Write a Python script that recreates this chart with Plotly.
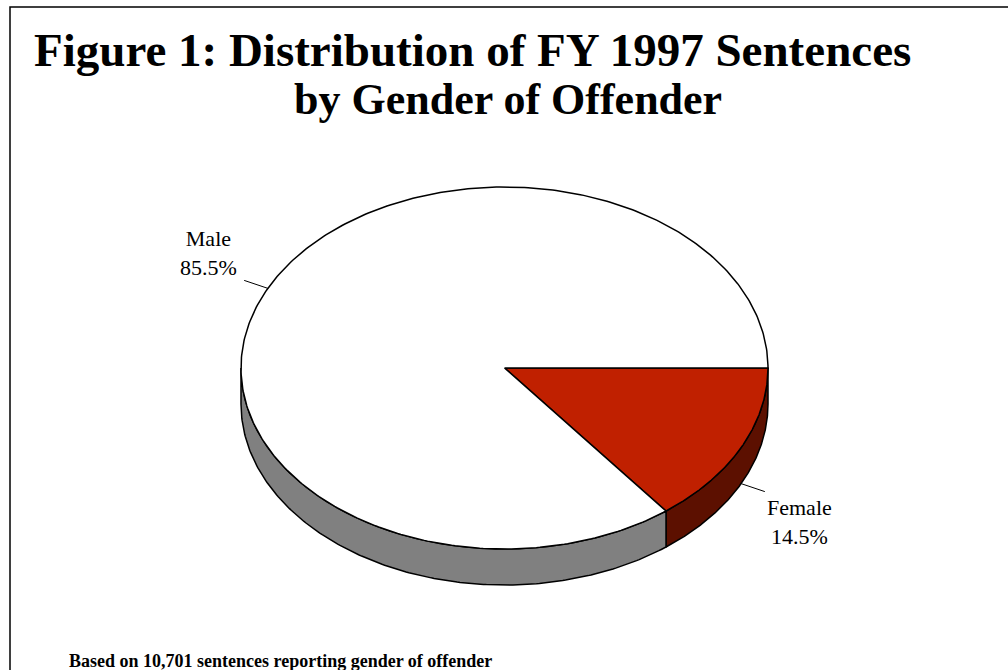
import numpy as np
import plotly.graph_objects as go

# ---------------- data ----------------
categories = ["Male", "Female"]
percent = [85.5, 14.5]
title_lines = ["Figure 1: Distribution of FY 1997 Sentences", "by Gender of Offender"]
footnote = "Based on 10,701 sentences reporting gender of offender"

# ---------------- layout / style ----------------
W, H = 1008, 670
CX, CY = 504.5, 368.0
RX, RY = 263.5, 181.0
DEPTH = 36.0
FONT = "Liberation Serif, Times New Roman, serif"
top_col = {"Male": "#FFFFFF", "Female": "#C02000"}
side_col = {"Male": "#808080", "Female": "#5C1000"}
draw_order = ["Female", "Male"]  # clockwise from 3 o'clock

# slice angles (screen degrees, clockwise, y down)
slices = {}
start = 0.0
for c in draw_order:
    v = percent[categories.index(c)]
    end = start + v / 100.0 * 360.0
    slices[c] = (start, end)
    start = end


def pt(a, dz=0.0):
    r = np.radians(a)
    return CX + RX * np.cos(r), CY + RY * np.sin(r) + dz


fig = go.Figure()

# side faces (visible front half: 0..180 deg)
for c in draw_order:
    a0, a1 = slices[c]
    lo, hi = max(a0, 0.0), min(a1, 180.0)
    if hi <= lo:
        continue
    ang = np.linspace(lo, hi, 200)
    xt, yt = pt(ang)
    xb, yb = pt(ang[::-1], DEPTH)
    xs = np.concatenate([xt, xb, xt[:1]])
    ys = np.concatenate([yt, yb, yt[:1]])
    fig.add_trace(go.Scatter(x=xs, y=ys, mode="lines", fill="toself",
                             fillcolor=side_col[c], line=dict(color="black", width=1.5),
                             hoverinfo="skip", showlegend=False))

# top faces
for c in draw_order:
    a0, a1 = slices[c]
    ang = np.linspace(a0, a1, 400)
    xa, ya = pt(ang)
    xs = np.concatenate([[CX], xa, [CX]])
    ys = np.concatenate([[CY], ya, [CY]])
    fig.add_trace(go.Scatter(x=xs, y=ys, mode="lines", fill="toself",
                             fillcolor=top_col[c], line=dict(color="black", width=1.5),
                             hoverinfo="skip", showlegend=False))

# leader lines and labels
annotations = []
for c in draw_order:
    a0, a1 = slices[c]
    m = (a0 + a1) / 2.0
    r = np.radians(m)
    front = np.sin(r) > 0
    x0, y0 = pt(m, DEPTH if front else 0.0)
    d = np.array([np.cos(r) * RX, np.sin(r) * RY])
    d = d / np.linalg.norm(d)
    x1, y1 = x0 + 25 * d[0], y0 + 25 * d[1]
    fig.add_trace(go.Scatter(x=[x0, x1], y=[y0, y1], mode="lines",
                             line=dict(color="black", width=1),
                             hoverinfo="skip", showlegend=False))
    p = percent[categories.index(c)]
    right_side = np.cos(r) > 0
    annotations.append(dict(
        x=x1 + (0 if right_side else -5), y=y1 + (1 if front else 2),
        xref="x", yref="y", showarrow=False,
        text=f"{c}<br>{p:.1f}%", align="center",
        xanchor="left" if right_side else "right",
        yanchor="top" if front else "bottom",
        font=dict(family=FONT, size=22, color="black")))

# titles
annotations.append(dict(x=472, y=50, xref="x", yref="y", showarrow=False,
                        text=f"<b>{title_lines[0]}</b>", xanchor="center", yanchor="middle",
                        font=dict(family=FONT, size=47, color="black")))
annotations.append(dict(x=508, y=99, xref="x", yref="y", showarrow=False,
                        text=f"<b>{title_lines[1]}</b>", xanchor="center", yanchor="middle",
                        font=dict(family=FONT, size=44, color="black")))
annotations.append(dict(x=67, y=661, xref="x", yref="y", showarrow=False,
                        text=f"<b>{footnote}</b>", xanchor="left", yanchor="middle",
                        font=dict(family=FONT, size=18, color="black")))

fig.update_layout(
    width=W, height=H, margin=dict(l=0, r=0, t=0, b=0),
    paper_bgcolor="white", plot_bgcolor="white",
    xaxis=dict(range=[0, W], visible=False, fixedrange=True),
    yaxis=dict(range=[H, 0], visible=False, fixedrange=True),
    annotations=annotations,
    shapes=[dict(type="rect", xref="paper", yref="paper",
                 x0=10 / W, x1=1.05, y0=-0.05, y1=1 - 7 / H,
                 line=dict(color="black", width=1.5))],
    showlegend=False,
)

fig.write_html("out.html", config={"displayModeBar": False},
               post_script="document.body.style.margin='0';document.body.style.padding='0';"
                           "document.body.style.overflow='hidden';")
